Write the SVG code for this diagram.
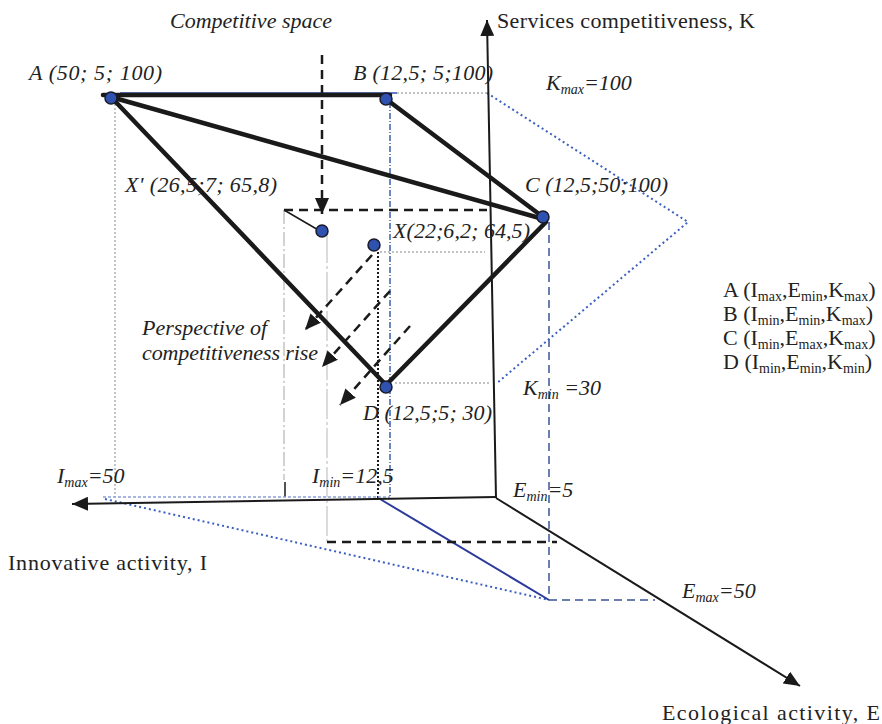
<svg xmlns="http://www.w3.org/2000/svg" width="882" height="724" viewBox="0 0 882 724">
<style>
.it{font-family:"Liberation Serif","Times New Roman",serif;font-style:italic;font-size:22px;fill:#222}
.rm{font-family:"Liberation Serif","Times New Roman",serif;font-size:22px;fill:#222}
.sub{font-size:14px}
.thick{stroke:#1a1a1a;stroke-width:4.5;fill:none;stroke-linecap:round}
.axis{stroke:#1a1a1a;stroke-width:2;fill:none}
.dash{stroke:#1a1a1a;stroke-width:2.5;fill:none;stroke-dasharray:9 6}
.bdot{stroke:#3a5fc0;stroke-width:2;fill:none;stroke-dasharray:2 3}
.gdot{stroke:#b0b0b0;stroke-width:1.5;fill:none;stroke-dasharray:2 2}
.node{fill:#2f52b0;stroke:#1a1a2a;stroke-width:1.5}
</style>
<defs>
<marker id="arr" markerUnits="userSpaceOnUse" markerWidth="16" markerHeight="14" refX="16" refY="7" orient="auto">
<path d="M0,0 L16,7 L0,14 z" fill="#1a1a1a"/>
</marker>
<marker id="arr2" markerUnits="userSpaceOnUse" markerWidth="16" markerHeight="14" refX="16" refY="7" orient="auto">
<path d="M0,0 L16,7 L0,14 z" fill="#1a1a1a"/>
</marker>
</defs>

<g id="connectors">
<line class="gdot" x1="115" y1="104" x2="115" y2="497"/>
<line x1="284" y1="210" x2="284" y2="480" stroke="#bbb" stroke-width="1.3" stroke-dasharray="14 3 2 3"/>
<line x1="285" y1="482" x2="285" y2="497" stroke="#1a1a1a" stroke-width="1.5"/>
<line x1="327" y1="233" x2="327" y2="542" stroke="#cfcfcf" stroke-width="1.5" stroke-dasharray="30 3 3 3"/>
<line x1="378" y1="252" x2="378" y2="498" stroke="#1a1a1a" stroke-width="2" stroke-dasharray="2 2"/>
<line x1="390" y1="102" x2="390" y2="497" stroke="#3a5fb0" stroke-width="1.5" stroke-dasharray="6 2 1 2"/>
<line x1="549" y1="222" x2="549" y2="600" stroke="#6a7fb0" stroke-width="2" stroke-dasharray="8 5"/>
<line x1="549" y1="600" x2="655" y2="600" stroke="#6a7fb0" stroke-width="2" stroke-dasharray="8 5"/>
<line class="gdot" x1="397" y1="93" x2="487" y2="93"/>
<line class="gdot" x1="380" y1="252" x2="485" y2="252"/>
<line class="gdot" x1="395" y1="383" x2="490" y2="383" stroke="#d0d0d0"/>
<line x1="103" y1="497" x2="390" y2="497" stroke="#8aa0d8" stroke-width="1.5" stroke-dasharray="3 2"/>
<polyline class="bdot" points="487,93 688,222 497,383"/>
<line class="bdot" x1="105" y1="499" x2="549" y2="600"/>
<line x1="380" y1="499" x2="549" y2="600" stroke="#2a3a9a" stroke-width="2"/>
<line class="dash" x1="284" y1="210" x2="487" y2="210" stroke-dasharray="12 6"/>
<line class="dash" x1="327" y1="542" x2="557" y2="542" stroke-dasharray="10 6"/>
<line x1="284" y1="210" x2="320" y2="231" stroke="#1a1a1a" stroke-width="1.5"/>
<line class="axis" x1="496" y1="498" x2="487" y2="20" marker-end="url(#arr)"/>
<line class="axis" x1="496" y1="497" x2="72" y2="504" marker-end="url(#arr)"/>
<line class="axis" x1="496" y1="498" x2="800" y2="686" marker-end="url(#arr)"/>
<line x1="120" y1="93" x2="397" y2="93" stroke="#3050b0" stroke-width="1.5"/>
<line class="thick" x1="103" y1="95" x2="390" y2="95"/>
<line class="thick" x1="111" y1="97" x2="543" y2="219"/>
<line class="thick" x1="111" y1="97" x2="386" y2="385"/>
<line class="thick" x1="386" y1="99" x2="543" y2="217"/>
<line class="thick" x1="546" y1="222" x2="386" y2="385"/>
<line class="dash" x1="322" y1="55" x2="322" y2="214" marker-end="url(#arr2)"/>
<line class="dash" x1="372" y1="255" x2="305" y2="330" marker-end="url(#arr2)"/>
<line class="dash" x1="390" y1="291" x2="322" y2="367" marker-end="url(#arr2)"/>
<line class="dash" x1="410" y1="326" x2="340" y2="405" marker-end="url(#arr2)"/>
</g>

<g id="node-A"><circle class="node" cx="111" cy="98" r="6"/><text class="it" x="29" y="80" textLength="133">A (50; 5; 100)</text></g>
<g id="node-B"><circle class="node" cx="386" cy="99" r="6"/><text class="it" x="353" y="80" textLength="140">B (12,5; 5;100)</text></g>
<g id="node-C"><circle class="node" cx="543" cy="217" r="6"/><text class="it" x="525" y="192" textLength="143">C (12,5;50;100)</text></g>
<g id="node-D"><circle class="node" cx="386" cy="387" r="6"/><text class="it" x="363" y="420" textLength="129">D (12,5;5; 30)</text></g>
<g id="node-Xp"><circle class="node" cx="322" cy="231" r="6"/><text class="it" x="125" y="192" textLength="152">X' (26,5;7; 65,8)</text></g>
<g id="node-X"><circle class="node" cx="374" cy="245" r="6"/><text class="it" x="393" y="238" textLength="137">X(22;6,2; 64,5)</text></g>

<g id="labels">
<text class="it" x="170" y="28" textLength="162">Competitive space</text>
<text class="rm" x="497" y="28" textLength="258">Services competitiveness, K</text>
<text class="it" x="142" y="335" textLength="125">Perspective of</text>
<text class="it" x="142" y="360" textLength="176">competitiveness rise</text>
<text class="it" x="546" y="90">K<tspan class="sub" dy="4">max</tspan><tspan dy="-4">=100</tspan></text>
<text class="it" x="523" y="395">K<tspan class="sub" dy="4">min</tspan><tspan dy="-4"> =30</tspan></text>
<text class="it" x="57" y="483">I<tspan class="sub" dy="4">max</tspan><tspan dy="-4">=50</tspan></text>
<text class="it" x="312" y="483">I<tspan class="sub" dy="4">min</tspan><tspan dy="-4">=12,5</tspan></text>
<text class="it" x="513" y="497">E<tspan class="sub" dy="4">min</tspan><tspan dy="-4">=5</tspan></text>
<text class="it" x="682" y="598">E<tspan class="sub" dy="4">max</tspan><tspan dy="-4">=50</tspan></text>
<text class="rm" x="8" y="570" textLength="199">Innovative activity, I</text>
<text class="rm" x="662" y="720" textLength="218">Ecological activity, E</text>
</g>

<g id="legend">
<text class="rm" x="723" y="297">A (I<tspan class="sub" dy="4">max</tspan><tspan dy="-4">,E</tspan><tspan class="sub" dy="4">min</tspan><tspan dy="-4">,K</tspan><tspan class="sub" dy="4">max</tspan><tspan dy="-4">)</tspan></text>
<text class="rm" x="723" y="321">B (I<tspan class="sub" dy="4">min</tspan><tspan dy="-4">,E</tspan><tspan class="sub" dy="4">min</tspan><tspan dy="-4">,K</tspan><tspan class="sub" dy="4">max</tspan><tspan dy="-4">)</tspan></text>
<text class="rm" x="723" y="345">C (I<tspan class="sub" dy="4">min</tspan><tspan dy="-4">,E</tspan><tspan class="sub" dy="4">max</tspan><tspan dy="-4">,K</tspan><tspan class="sub" dy="4">max</tspan><tspan dy="-4">)</tspan></text>
<text class="rm" x="723" y="369">D (I<tspan class="sub" dy="4">min</tspan><tspan dy="-4">,E</tspan><tspan class="sub" dy="4">min</tspan><tspan dy="-4">,K</tspan><tspan class="sub" dy="4">min</tspan><tspan dy="-4">)</tspan></text>
</g>
</svg>
